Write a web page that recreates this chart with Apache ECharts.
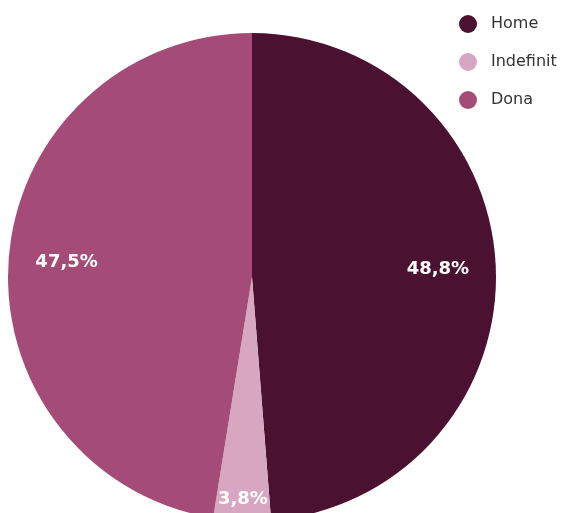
<!DOCTYPE html>
<html>
<head>
<meta charset="utf-8">
<script src="https://cdn.jsdelivr.net/npm/echarts@6/dist/echarts.min.js"></script>
<style>
  html, body { margin: 0; padding: 0; background: #ffffff; }
  #chart { width: 561px; height: 513px; }
</style>
</head>
<body>
<div id="chart"></div>
<script>
// Gender breakdown (percent)
const categories = ['Home', 'Indefinit', 'Dona'];
const values = [48.8, 3.8, 47.5];
const colors = ['#4b1130', '#d7a7c1', '#a44c77'];

const chart = echarts.init(document.getElementById('chart'), null, { renderer: 'canvas' });

const CENTER = [252, 277];
const R = 244;
const FONT = 'DejaVu Sans, Verdana, sans-serif';
const fmt = v => v.toFixed(1).replace('.', ',') + '%';

const baseData = categories.map((name, i) => ({
  name, value: values[i], itemStyle: { color: colors[i] }
}));

const labelStyle = {
  show: true,
  position: 'inside',
  color: '#ffffff',
  fontSize: 18,
  fontWeight: 'bold',
  fontFamily: FONT,
  formatter: p => fmt(p.value)
};

// transparent overlay ring used only to place the slice labels
function labelRing(r0, showFor) {
  return {
    type: 'pie',
    center: CENTER,
    radius: [r0, R],
    startAngle: 90,
    clockwise: true,
    silent: true,
    legendHoverLink: false,
    animation: false,
    itemStyle: { color: 'rgba(0,0,0,0)', borderWidth: 0 },
    labelLine: { show: false },
    emphasis: { disabled: true },
    data: categories.map((name, i) => ({
      name: name + ' ',
      value: values[i],
      label: Object.assign({}, labelStyle, { show: showFor.includes(name) })
    }))
  };
}

chart.setOption({
  animation: false,
  legend: {
    orient: 'vertical',
    left: 454,
    top: 10,
    icon: 'circle',
    itemWidth: 26,
    itemHeight: 18,
    itemGap: 20,
    data: categories,
    textStyle: { fontSize: 16, color: '#333333', fontFamily: FONT, padding: [0, 0, 0, 5] }
  },
  series: [
    {
      type: 'pie',
      center: CENTER,
      radius: [0, R],
      startAngle: 90,
      clockwise: true,
      animation: false,
      label: { show: false },
      labelLine: { show: false },
      itemStyle: { borderWidth: 0 },
      emphasis: { scale: false },
      data: baseData
    },
    labelRing(R * 0.5, ['Home', 'Dona']),
    labelRing(R * 0.8, ['Indefinit'])
  ]
});
</script>
</body>
</html>
